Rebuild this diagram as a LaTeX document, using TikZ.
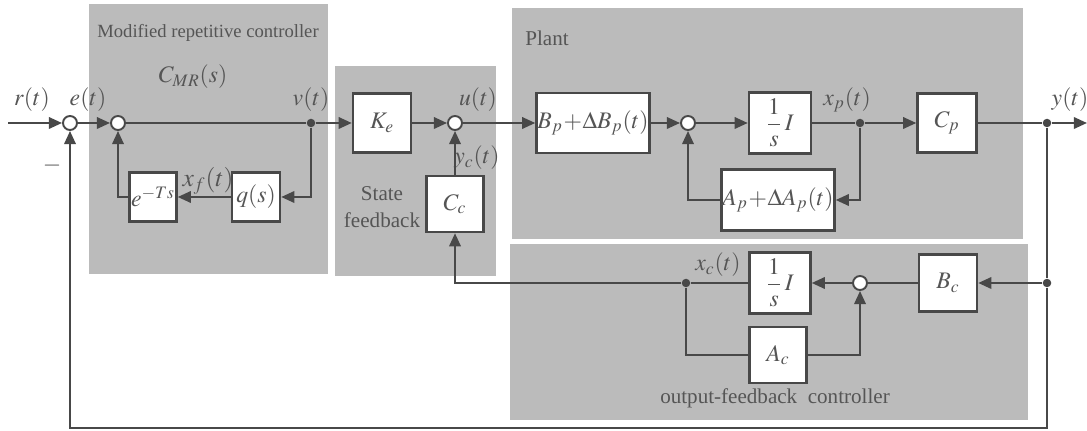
\documentclass[tikz,border=0pt]{standalone}
\usepackage{mathptmx}
\usepackage{fontspec}
\setmainfont{Liberation Serif}
\usetikzlibrary{arrows.meta,positioning}
\definecolor{panelgray}{RGB}{187,187,187}
\definecolor{linegray}{RGB}{72,72,72}
\definecolor{textgray}{RGB}{85,85,85}

\begin{document}
\begin{tikzpicture}[
    x=0.02cm, y=-0.02cm,
    every node/.style={text=textgray},
    panel/.style={fill=panelgray,draw=none},
    blk/.style={rectangle,draw=linegray,fill=white,line width=1.4pt,
      minimum width=1.16cm,minimum height=1.16cm,inner sep=0.5pt,
      font=\fontsize{13.5}{15}\selectfont},
    sumc/.style={circle,draw=linegray,fill=white,line width=1.1pt,
      minimum size=0.28cm,inner sep=0pt},
    dot/.style={circle,fill=linegray,minimum size=0.17cm,inner sep=0pt},
    lbl/.style={font=\fontsize{13.5}{15}\selectfont,inner sep=1pt},
    txt/.style={font=\fontsize{12}{15}\selectfont,align=center,inner sep=1pt},
    wire/.style={line width=1.3pt,draw=linegray},
    arrow/.style={wire,-{Triangle[length=7.5pt,width=6.5pt]}}
  ]
  \useasboundingbox (0,0) rectangle (1087,431);
  % grey panels
  \fill[panel] (89,4) rectangle (328,274);
  \fill[panel] (335,66) rectangle (496,276);
  \fill[panel] (512,8) rectangle (1023,239);
  \fill[panel] (510,244) rectangle (1028,420);

  % summing junctions and branch points
  \node[sumc] (s1) at (70,123) {};
  \node[sumc] (s2) at (118,123) {};
  \node[sumc] (s3) at (455,123) {};
  \node[sumc] (s4) at (688,123) {};
  \node[sumc] (s5) at (860,283) {};
  \node[dot] (v) at (311,123) {};
  \node[dot] (xp) at (860,123) {};
  \node[dot] (y) at (1047,123) {};
  \node[dot] (yc) at (1047,283) {};
  \node[dot] (xc) at (686,283) {};
  \coordinate (in) at (8,123);
  \coordinate (out) at (1087,123);
  \coordinate (fb) at (1047,428);

  % blocks
  \node[blk,minimum width=0.94cm,minimum height=0.98cm] (eTs) at (153,197) {$e^{-Ts}$};
  \node[blk,minimum width=0.96cm,minimum height=0.98cm] (qs) at (256,197) {$q(s)$};
  \node[blk,minimum height=1.18cm] (Ke) at (382,123) {$K_e$};
  \node[blk,minimum width=1.14cm,minimum height=1.12cm] (Cc) at (455,204) {$C_c$};
  \node[blk,minimum width=1.98cm,minimum height=1.2cm] (Bp) at (593,123) {$B_p\!+\!\Delta B_p(t)$};
  \node[blk,minimum width=1.24cm,minimum height=1.22cm] (sI) at (780,123) {$\displaystyle\frac{1}{s}\,I$};
  \node[blk,minimum width=1.18cm,minimum height=1.18cm] (Cp) at (947,123) {$C_p$};
  \node[blk,minimum width=1.92cm,minimum height=1.22cm] (Ap) at (778,200) {$A_p\!+\!\Delta A_p(t)$};
  \node[blk,minimum width=1.22cm,minimum height=1.22cm] (sIc) at (780,283) {$\displaystyle\frac{1}{s}\,I$};
  \node[blk,minimum height=1.14cm] (Bc) at (948,283) {$B_c$};
  \node[blk,minimum width=1.14cm,minimum height=1.12cm] (Ac) at (778,355) {$A_c$};

  % texts
  \node[txt,font=\fontsize{10.6}{12}\selectfont] at (208,33) {Modified repetitive controller};
  \node[lbl] at (193,77) {$C_{MR}(s)$};
  \node[txt] at (547,38) {Plant};
  \node[txt] at (382,207) {State\\feedback};
  \node[txt] at (775,398) {output-feedback\ \ controller};
  \node[lbl] at (32,100) {$r(t)$};
  \node[lbl] at (88,100) {$e(t)$};
  \node[lbl] at (52,166) {$-$};
  \node[lbl] at (311,100) {$v(t)$};
  \node[lbl,font=\fontsize{14.5}{16}\selectfont] at (208,181) {$x_f(t)$};
  \node[lbl] at (478,100) {$u(t)$};
  \node[lbl] at (477,158) {$y_c(t)$};
  \node[lbl] at (847,100) {$x_p(t)$};
  \node[lbl] at (1070,100) {$y(t)$};
  \node[lbl] at (718,265) {$x_c(t)$};

  % repetitive controller
  \draw[arrow] (in) -- (s1);
  \draw[arrow] (s1) -- (s2);
  \draw[wire] (s2) -- (v);
  \draw[arrow] (v) -- (Ke);
  \draw[arrow] (v) |- (qs.east);
  \draw[arrow] (qs) -- (eTs);
  \draw[arrow] (eTs.west) -| (s2.south);

  % state feedback
  \draw[arrow] (Ke) -- (s3);
  \draw[arrow] (Cc) -- (s3);
  \draw[arrow] (s3) -- (Bp);

  % plant
  \draw[arrow] (Bp) -- (s4);
  \draw[arrow] (s4) -- (sI);
  \draw[wire] (sI) -- (xp);
  \draw[arrow] (xp) -- (Cp);
  \draw[arrow] (xp) |- (Ap.east);
  \draw[arrow] (Ap.west) -| (s4.south);
  \draw[wire] (Cp) -- (y);
  \draw[arrow] (y) -- (out);

  % output-feedback controller
  \draw[wire] (y) -- (yc);
  \draw[arrow] (yc) -- (Bc);
  \draw[wire] (Bc) -- (s5);
  \draw[arrow] (s5) -- (sIc);
  \draw[wire] (sIc) -- (xc);
  \draw[arrow] (xc) -| (Cc.south);
  \draw[wire] (xc) |- (Ac.west);
  \draw[arrow] (Ac.east) -| (s5.south);

  % outer loop
  \draw[arrow] (yc) -- (fb) -| (s1.south);
\end{tikzpicture}
\end{document}
